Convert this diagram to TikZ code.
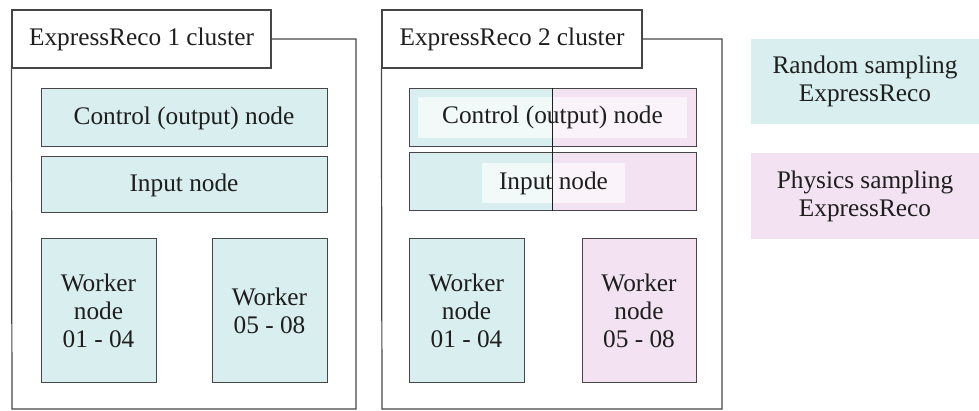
\documentclass[tikz,border=0pt]{standalone}
\usepackage{fontspec}
\setmainfont{Liberation Serif}
\newfontfamily\tnr{Liberation Serif}
\definecolor{rnd}{RGB}{217,238,238}
\definecolor{phy}{RGB}{242,226,242}
\definecolor{ink}{RGB}{30,30,30}
\definecolor{edge}{RGB}{70,70,70}
\begin{document}
\begin{tikzpicture}[x=1pt,y=-1pt,
  every node/.style={font=\tnr\fontsize{25.3}{28}\selectfont, text=ink, inner sep=0pt, align=center},
  frame/.style={draw=edge, line width=1.2pt},
  titlebox/.style={draw=edge, line width=1.2pt, fill=white, minimum height=58pt},
  nodebox/.style={draw=edge, line width=1pt},
  rndbox/.style={nodebox, fill=rnd},
  phybox/.style={nodebox, fill=phy},
  halfbox/.style={nodebox, path picture={
      \fill[rnd] (path picture bounding box.south west) rectangle (path picture bounding box.north);
      \fill[phy] (path picture bounding box.south) rectangle (path picture bounding box.north east);}},
  overlay/.style={fill=white, fill opacity=0.65, text opacity=1},
  legendbox/.style={minimum width=228pt}
]
\useasboundingbox (0,0) rectangle (979,411);
% ---- cluster 1
\node[titlebox, minimum width=259pt] (t1) at (141.5,39) {ExpressReco 1 cluster};
\coordinate (f1ne) at (356,39);
\coordinate (f1se) at (356,409);
\coordinate (f1sw) at (12,409);
\draw[frame] (t1.east) -- (f1ne) -- (f1se) -- (f1sw) -- (t1.south west);
\node[rndbox, minimum width=286pt, minimum height=58pt] (c1) at (184,118) {Control (output) node};
\node[rndbox, minimum width=286pt, minimum height=56pt] (i1) at (184,185) {Input node};
\node[rndbox, minimum width=115pt, minimum height=143pt] (wa1) at (98.5,310.5) {Worker\\node\\01 - 04};
\node[rndbox, minimum width=115pt, minimum height=143pt] (wb1) at (269.5,310.5) {Worker\\05 - 08};
% ---- cluster 2
\node[titlebox, minimum width=260pt] (t2) at (512,39) {ExpressReco 2 cluster};
\coordinate (f2ne) at (722,39);
\coordinate (f2se) at (722,409);
\coordinate (f2sw) at (382,409);
\draw[frame] (t2.east) -- (f2ne) -- (f2se) -- (f2sw) -- (t2.south west);
\node[halfbox, minimum width=287pt, minimum height=58pt] (c2) at (552.5,118) {};
\node[halfbox, minimum width=287pt, minimum height=58pt] (i2) at (552.5,182) {};
\node[overlay, minimum width=269pt, minimum height=41pt] (oc2) at (552.5,117.5) {Control (output) node};
\node[overlay, minimum width=143pt, minimum height=40pt] (oi2) at (553.5,183) {Input node};
\draw[draw=ink, line width=1.1pt] (c2.north) -- (i2.south);
\node[rndbox, minimum width=115pt, minimum height=143pt] (wa2) at (466.5,310.5) {Worker\\node\\01 - 04};
\node[phybox, minimum width=114pt, minimum height=143pt] (wb2) at (639,310.5) {Worker\\node\\05 - 08};
% ---- legend
\node[legendbox, fill=rnd, minimum height=85pt] (lr) at (865,81.5) {Random sampling\\ExpressReco};
\node[legendbox, fill=phy, minimum height=86pt] (lp) at (865,196) {Physics sampling\\ExpressReco};
\end{tikzpicture}
\end{document}
